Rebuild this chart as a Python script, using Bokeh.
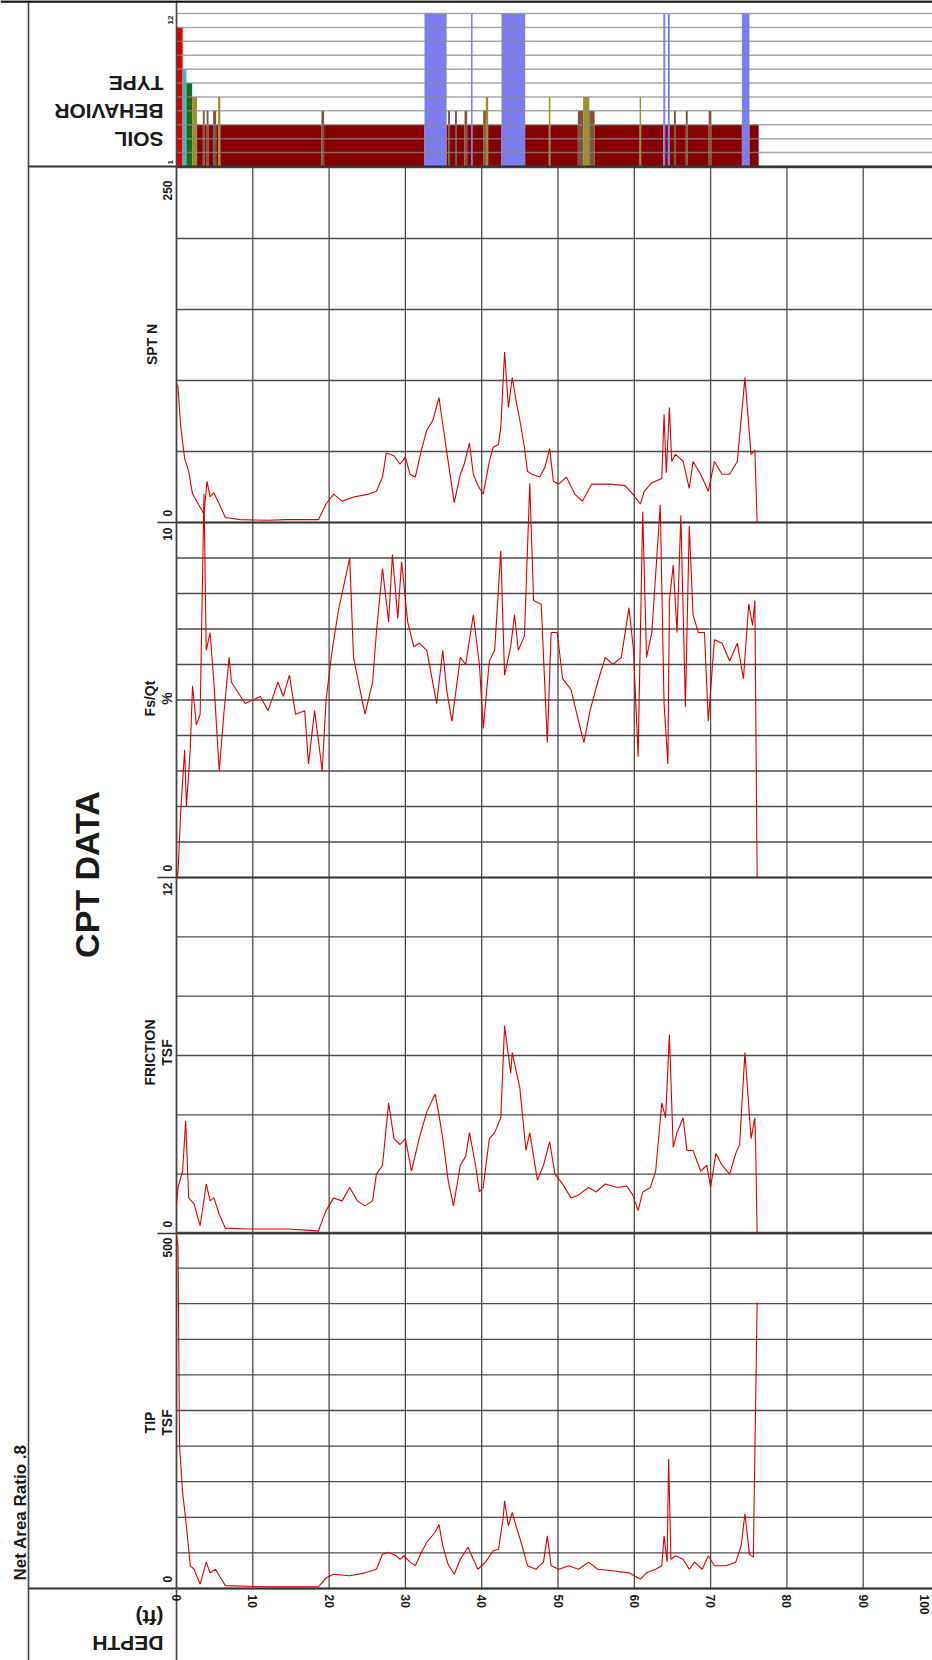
from math import pi
from bokeh.plotting import figure
from bokeh.models import Range1d
from bokeh.embed import file_html
from bokeh.resources import INLINE
from bokeh.core.properties import value

# ---------------- data ----------------
depth_ticks = [0, 10, 20, 30, 40, 50, 60, 70, 80, 90, 100]
depth_tick_labels = ["0", "10", "20", "30", "40", "50", "60", "70", "80", "90", "100"]

# soil behaviour type intervals (depth from, depth to, zone)
sbt_from = [0.0, 0.8, 1.3, 2.05, 2.7, 3.45, 3.7, 3.95, 4.2, 4.8,
            5.2, 5.45, 5.75, 19.0, 19.35, 32.5, 35.4, 35.6, 35.85, 36.5,
            36.75, 37.75, 38.1, 38.6, 38.8, 40.2, 40.55, 40.85, 42.6, 45.7,
            48.8, 49.0, 52.6, 53.3, 54.1, 54.8, 60.7, 60.9, 63.8, 64.05,
            64.4, 64.65, 65.2, 65.45, 66.75, 67.0, 69.75, 70.1, 74.1, 75.1]
sbt_to = [0.8, 1.3, 2.05, 2.7, 3.45, 3.7, 3.95, 4.2, 4.8, 5.2,
          5.45, 5.75, 19.0, 19.35, 32.5, 35.4, 35.6, 35.85, 36.5, 36.75,
          37.75, 38.1, 38.6, 38.8, 40.2, 40.55, 40.85, 42.6, 45.7, 48.8,
          49.0, 52.6, 53.3, 54.1, 54.8, 60.7, 60.9, 63.8, 64.05, 64.4,
          64.65, 65.2, 65.45, 66.75, 67.0, 69.75, 70.1, 74.1, 75.1, 76.3]
sbt_zone = [11, 8, 7, 6, 4, 5, 4, 5, 4, 5,
            4, 6, 4, 5, 4, 12, 4, 5, 4, 5,
            4, 5, 4, 12, 4, 5, 6, 4, 12, 4,
            6, 4, 5, 6, 5, 4, 6, 4, 12, 4,
            12, 4, 5, 4, 5, 4, 5, 4, 12, 4]
sbt_axis_labels = ["1", "12"]

# SPT N
spt_depth = [0.0, 0.2, 0.56, 1.07, 1.6, 2.1, 2.85, 3.6, 4.0, 4.4,
             4.9, 5.6, 6.4, 8.4, 12.0, 14.5, 18.6, 19.6, 20.6, 21.7,
             23.2, 25.2, 26.2, 27.0, 27.5, 28.5, 29.3, 30.0, 30.6, 31.3,
             32.1, 32.8, 33.6, 34.4, 34.9, 35.6, 36.4, 37.2, 37.7, 38.4,
             38.9, 39.5, 40.2, 41.0, 41.5, 42.2, 42.5, 43.0, 43.5, 44.0,
             44.5, 45.0, 45.6, 46.0, 46.6, 47.6, 48.3, 48.9, 49.4, 50.1,
             51.1, 52.2, 53.2, 54.4, 55.2, 56.7, 58.8, 59.8, 60.8, 61.3,
             62.3, 63.6, 63.9, 64.2, 64.6, 64.9, 65.4, 66.4, 67.2, 67.7,
             68.7, 69.7, 70.5, 71.5, 72.5, 73.5, 74.5, 75.3, 75.8, 76.1]
spt_n = [98, 95, 67, 45, 36, 20, 13, 6, 29, 18,
         21, 13, 3.5, 2, 1.6, 2, 2, 13, 20, 15,
         18, 20, 22, 32, 49, 47, 41, 46, 34, 32,
         51, 65, 72, 88, 69, 43, 14, 34, 41, 56,
         34, 26, 20, 43, 53, 55, 67, 120, 81, 102,
         86, 72, 53, 36, 34, 32, 39, 52, 29, 27,
         32, 20, 15, 27, 27, 27, 26, 20, 13, 22,
         28, 31, 76, 35, 81, 43, 48, 43, 24, 43,
         34, 22, 43, 34, 34, 43, 102, 48, 51, 0]

# Fs/Qt (%)
fsqt_depth = [0.0, 0.2, 0.56, 1.07, 1.3, 1.8, 2.1, 2.6, 3.1, 3.6,
              3.9, 4.4, 4.9, 5.6, 6.2, 6.9, 7.2, 9.0, 11.0, 12.0,
              13.3, 14.0, 14.8, 15.6, 16.8, 17.3, 18.1, 19.1, 19.6, 20.4,
              21.2, 22.2, 22.7, 23.2, 24.7, 25.7, 26.2, 27.0, 27.8, 28.3,
              29.0, 29.5, 30.3, 31.1, 31.8, 32.8, 34.1, 34.9, 35.4, 36.1,
              37.2, 37.9, 38.9, 39.7, 40.2, 41.0, 41.7, 42.5, 43.0, 43.8,
              44.3, 44.8, 45.6, 46.3, 46.8, 47.8, 48.6, 49.1, 49.9, 50.6,
              51.7, 52.7, 53.4, 54.2, 55.2, 56.2, 57.2, 58.3, 59.3, 59.9,
              60.5, 61.1, 61.6, 62.3, 63.4, 63.9, 64.4, 64.6, 65.1, 65.6,
              66.1, 66.7, 67.2, 67.7, 68.4, 69.2, 69.7, 70.5, 71.5, 72.5,
              73.5, 74.3, 75.0, 75.5, 75.8, 76.1]
fsqt_pct = [0.0, 0.14, 1.9, 3.6, 2.0, 3.6, 5.4, 4.3, 4.6, 10.8,
            6.4, 6.9, 5.5, 3.0, 4.6, 6.2, 5.5, 4.9, 5.1, 4.7,
            5.5, 5.1, 5.7, 4.6, 4.7, 3.2, 4.7, 3.0, 5.0, 6.4,
            7.5, 8.5, 9.0, 6.2, 4.6, 5.5, 6.9, 8.7, 7.2, 9.1,
            7.3, 8.9, 7.2, 6.5, 6.6, 6.4, 4.9, 6.4, 5.3, 4.4,
            6.2, 6.0, 7.4, 6.0, 4.2, 6.1, 6.4, 9.2, 5.7, 6.5,
            7.4, 6.4, 6.8, 11.1, 7.8, 7.7, 3.8, 6.9, 6.9, 5.6,
            5.3, 4.4, 3.8, 4.7, 5.5, 6.2, 6.0, 6.2, 7.6, 6.4,
            3.4, 10.3, 6.2, 6.9, 10.5, 4.9, 3.2, 7.8, 8.8, 6.9,
            10.2, 4.8, 9.9, 7.4, 6.9, 6.9, 4.4, 6.7, 6.6, 6.1,
            6.6, 5.6, 7.7, 7.1, 7.8, 0.0]

# Friction (TSF)
fric_depth = [0.0, 0.2, 0.8, 1.2, 1.6, 2.3, 3.1, 3.9, 4.4, 4.9,
              5.6, 6.4, 9.5, 14.5, 18.6, 19.6, 20.6, 21.7, 22.7, 23.7,
              24.7, 25.7, 26.2, 27.0, 27.8, 28.5, 29.3, 30.0, 30.8, 31.8,
              32.8, 33.9, 34.4, 34.9, 35.6, 36.3, 37.2, 37.9, 38.4, 39.2,
              39.7, 40.2, 41.0, 41.7, 42.5, 43.0, 43.8, 44.0, 45.0, 45.8,
              46.3, 47.3, 48.1, 48.9, 49.6, 50.6, 51.7, 52.7, 54.0, 55.0,
              56.2, 57.8, 59.0, 59.8, 60.5, 61.1, 62.1, 62.8, 63.6, 64.1,
              64.6, 65.1, 65.6, 66.4, 66.9, 67.7, 68.7, 69.5, 70.0, 70.7,
              71.5, 72.5, 73.3, 73.8, 74.5, 75.3, 75.8, 75.9, 76.1]
fric_tsf = [1.0, 1.55, 2.1, 3.8, 1.2, 1.0, 0.26, 1.67, 1.1, 1.2,
            0.65, 0.18, 0.15, 0.15, 0.09, 0.77, 1.2, 1.1, 1.55, 1.1,
            0.93, 1.1, 2.0, 2.3, 4.4, 3.2, 3.0, 3.2, 2.1, 3.2,
            4.1, 4.7, 4.0, 3.2, 1.8, 0.93, 2.3, 2.6, 3.4, 2.3,
            1.4, 1.55, 3.2, 3.4, 3.9, 7.0, 5.4, 6.1, 4.9, 2.8,
            3.4, 1.8, 2.3, 3.1, 2.0, 1.67, 1.2, 1.3, 1.55, 1.4,
            1.67, 1.55, 1.6, 1.3, 0.77, 1.4, 1.55, 2.1, 4.4, 3.9,
            6.7, 2.9, 3.4, 3.9, 2.8, 2.8, 2.1, 2.3, 1.55, 2.7,
            2.3, 2.0, 2.7, 3.0, 6.1, 3.2, 3.9, 3.0, 0.0]

# Tip (TSF)
tip_depth = [0.0, 0.2, 0.4, 0.8, 1.3, 1.8, 2.3, 3.1, 3.9, 4.4,
             5.1, 5.9, 6.4, 12.0, 18.6, 19.6, 20.6, 22.7, 24.7, 26.2,
             27.0, 27.8, 28.8, 29.3, 29.8, 30.6, 31.3, 32.1, 32.8, 33.9,
             34.4, 34.9, 35.6, 36.4, 37.2, 38.2, 38.9, 39.5, 40.5, 41.5,
             42.2, 42.8, 43.0, 43.5, 44.0, 44.5, 45.3, 46.0, 47.1, 48.1,
             48.6, 49.1, 50.1, 51.4, 52.7, 54.0, 55.2, 57.2, 59.3, 60.0,
             60.8, 61.6, 62.8, 63.6, 63.9, 64.3, 64.5, 64.8, 65.4, 66.4,
             67.2, 67.9, 68.9, 69.7, 70.5, 72.0, 73.3, 74.0, 74.5, 75.1,
             75.6, 76.1]
tip_tsf = [496, 480, 200, 135, 88, 32, 27, 6, 37, 22,
           27, 13, 4, 2.3, 2.3, 15, 20, 18, 22, 27,
           48, 51, 46, 41, 46, 37, 32, 51, 65, 79,
           90, 60, 34, 20, 41, 58, 41, 27, 37, 53,
           55, 98, 123, 88, 107, 88, 60, 32, 27, 37,
           74, 32, 27, 32, 27, 37, 27, 25, 22, 18,
           13, 22, 27, 32, 74, 37, 182, 41, 46, 41,
           27, 37, 27, 46, 32, 32, 37, 60, 105, 48,
           44, 402]

# panel scales
panel_names = ["spt", "fsqt", "fric", "tip"]
panel_lo = [0, 0, 0, 0]
panel_hi = [250, 10, 12, 500]
panel_step = [50, 1, 2, 50]
panel_titles = [["SPT N"], ["Fs/Qt", "%"], ["FRICTION", "TSF"], ["TIP", "TSF"]]

# ---------------- layout / style ----------------
W, H = 932, 1660
TOP, LEFT = 0, 0
BOT, RIGHT = TOP + H, LEFT + W
X0, PX_FT = 176.0, 7.63          # page x of depth 0, pixels per foot
SOIL_Y = (166, 13)                 # page y of zone 1 / zone 12
PANEL_Y = [(522, 167), (877, 522), (1233, 877), (1588, 1232)]
FONT = value("Liberation Sans")
RED = "#d80000"
GRID = "#4d4d4d"
sbt_colors = {4: "#850000", 5: "#7a5540", 6: "#9d8f2a", 7: "#1d6a1d",
              8: "#3cbcbc", 11: "#d80000", 12: "#7d7df2"}

p = figure(width=W, height=H, x_range=Range1d(LEFT, RIGHT), y_range=Range1d(BOT, TOP),
           x_axis_location=None, y_axis_location=None, min_border=0,
           toolbar_location=None, output_backend="svg")
p.grid.visible = False
p.outline_line_color = None
p.background_fill_color = "white"
p.border_fill_color = "white"


def band(lo, hi, y_lo, y_hi):
    u = (hi - lo) / (y_lo - y_hi)
    return Range1d(start=lo - (BOT - y_lo) * u, end=hi + (y_hi - TOP) * u)


depth_end = (RIGHT - X0) / PX_FT
p.extra_x_ranges = {"depth": Range1d((LEFT - X0) / PX_FT, depth_end)}
p.extra_y_ranges["soil"] = band(1, 12, SOIL_Y[0], SOIL_Y[1])
for name, lo, hi, (ylo, yhi) in zip(panel_names, panel_lo, panel_hi, PANEL_Y):
    p.extra_y_ranges[name] = band(lo, hi, ylo, yhi)

# ---- soil behaviour type panel ----
p.quad(left=sbt_from, right=sbt_to, bottom=1, top=sbt_zone,
       fill_color=[sbt_colors[z] for z in sbt_zone], line_color=None,
       x_range_name="depth", y_range_name="soil")
zones = list(range(1, 13))
p.segment(x0=X0, x1=RIGHT, y0=zones, y1=zones, line_color="#8a8a8a",
          line_width=1.5, line_alpha=0.75, y_range_name="soil")

# ---- data panel grids ----
for name, lo, hi, step in zip(panel_names, panel_lo, panel_hi, panel_step):
    vals = []
    v = lo
    while v <= hi + 1e-9:
        vals.append(v)
        v += step
    p.segment(x0=X0, x1=RIGHT, y0=vals, y1=vals, line_color=GRID,
              line_width=1.3, y_range_name=name)

p.segment(x0=depth_ticks, x1=depth_ticks, y0=PANEL_Y[0][1], y1=PANEL_Y[-1][0],
          line_color=GRID, line_width=1.3, x_range_name="depth")

# panel boundaries and frame lines
bounds = [PANEL_Y[0][0], PANEL_Y[1][0], PANEL_Y[2][0]]
p.segment(x0=157, x1=RIGHT, y0=bounds, y1=bounds, line_color="#333333", line_width=1.6)
p.segment(x0=28, x1=RIGHT, y0=[SOIL_Y[0], PANEL_Y[-1][0]], y1=[SOIL_Y[0], PANEL_Y[-1][0]],
          line_color="#333333", line_width=1.8)
p.segment(x0=[28, X0], x1=[28, X0], y0=TOP, y1=BOT, line_color="#444444", line_width=1.6)
p.segment(x0=LEFT, x1=RIGHT, y0=TOP + 1, y1=TOP + 1, line_color="#111111", line_width=2.5)

# ---- curves ----
p.line(spt_depth, spt_n, line_color=RED, line_width=1.1, x_range_name="depth", y_range_name="spt")
p.line(fsqt_depth, fsqt_pct, line_color=RED, line_width=1.1, x_range_name="depth", y_range_name="fsqt")
p.line(fric_depth, fric_tsf, line_color=RED, line_width=1.1, x_range_name="depth", y_range_name="fric")
p.line(tip_depth, tip_tsf, line_color=RED, line_width=1.1, x_range_name="depth", y_range_name="tip")

# ---- texts ----
TXT = dict(text_font=FONT, text_font_style="bold", text_color="#1a1a1a")

# depth tick labels (last one pulled inside the page edge)
label_x = [min(d, depth_end - 1.0) for d in depth_ticks]
p.text(x=label_x, y=1594, text=depth_tick_labels, angle=-pi / 2, text_align="left",
       text_baseline="middle", text_font_size="12px", x_range_name="depth", **TXT)

# panel titles
title_y = [344, 698, 1052, 1422]
for lines, ty in zip(panel_titles, title_y):
    xs = [151] if len(lines) == 1 else [149, 166]
    p.text(x=xs, y=ty, text=lines, angle=pi / 2, text_align="center",
           text_baseline="middle", text_font_size="14px", **TXT)

# range labels
top_gap = [13, 5, 5, 5]
for lo, hi, (ylo, yhi), g in zip(panel_lo, panel_hi, PANEL_Y, top_gap):
    p.text(x=[167], y=[yhi + g], text=[str(hi)], angle=pi / 2, text_align="right",
           text_baseline="middle", text_font_size="12px", **TXT)
    p.text(x=[167], y=[ylo - 6], text=[str(lo)], angle=pi / 2, text_align="left",
           text_baseline="middle", text_font_size="12px", **TXT)
p.text(x=[170, 170], y=[SOIL_Y[1] + 2, SOIL_Y[0] - 2], text=[sbt_axis_labels[1], sbt_axis_labels[0]],
       angle=pi / 2, text_align=["right", "left"], text_baseline="middle",
       text_font_size="8px", **TXT)

# left column texts
p.text(x=[86], y=[874], text=["CPT DATA"], angle=pi / 2, text_align="center",
       text_baseline="middle", text_font_size="34px", **TXT)
p.text(x=[20], y=[1580], text=["Net Area Ratio .8"], angle=pi / 2, text_align="left",
       text_baseline="middle", text_font_size="17px", **TXT)
p.text(x=[163], y=[111], text=["SOIL\nBEHAVIOR\nTYPE"], angle=pi, text_align="left",
       text_baseline="middle", text_font_size="21px", text_line_height=1.2, **TXT)
p.text(x=[163], y=[1630], text=["DEPTH\n(ft)"], angle=pi, text_align="left",
       text_baseline="middle", text_font_size="21px", text_line_height=1.15, **TXT)

open("out.html", "w").write(file_html(p, INLINE))
